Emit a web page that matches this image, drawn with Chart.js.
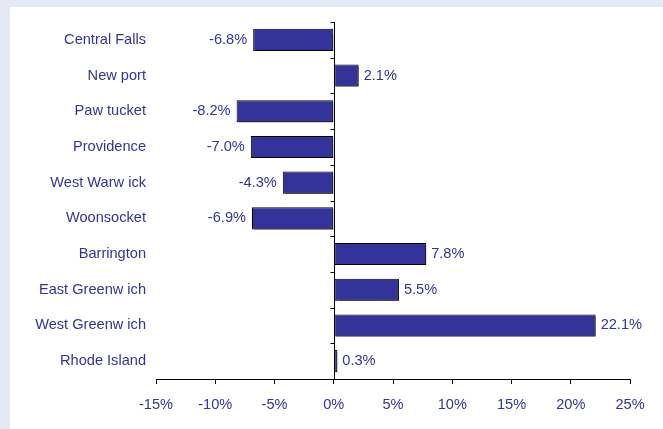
<!DOCTYPE html>
<html>
<head>
<meta charset="utf-8">
<script src="https://cdn.jsdelivr.net/npm/chart.js@4.4.0/dist/chart.umd.min.js"></script>
<style>
  html, body { margin: 0; padding: 0; background: #e6e9f3; }
  body { width: 663px; height: 429px; position: relative; overflow: hidden; }
  #wrap { position: absolute; left: 10px; top: 7px; width: 653px; height: 422px; background: #fff; }
</style>
</head>
<body>
<div id="wrap"><canvas id="chart" width="653" height="422"></canvas></div>
<script>
// ── Data ──────────────────────────────────────────────────
const places  = ['Central Falls', 'New port', 'Paw tucket', 'Providence', 'West Warw ick',
                 'Woonsocket', 'Barrington', 'East Greenw ich', 'West Greenw ich', 'Rhode Island'];
const changes = [-6.8, 2.1, -8.2, -7.0, -4.3, -6.9, 7.8, 5.5, 22.1, 0.3];
const xTicks  = [-15, -10, -5, 0, 5, 10, 15, 20, 25];

const BLUE = '#333399';
const FONT = { family: 'Liberation Sans, Arial, sans-serif', size: 14.6 };

// shadow under the bars
const barShadow = {
  id: 'barShadow',
  beforeDatasetsDraw(chart) {
    const c = chart.ctx;
    c.save();
    c.shadowColor = 'rgba(0,0,0,0.5)';
    c.shadowOffsetX = 2;
    c.shadowOffsetY = 2;
    c.shadowBlur = 1;
  },
  afterDatasetsDraw(chart) { chart.ctx.restore(); }
};

// zero line, category ticks and value labels
const extras = {
  id: 'extras',
  afterDatasetsDraw(chart) {
    const c = chart.ctx, x = chart.scales.x, y = chart.scales.y, area = chart.chartArea;
    const x0 = Math.round(x.getPixelForValue(0)) + 0.5;
    c.save();
    c.strokeStyle = '#000';
    c.lineWidth = 1;
    c.beginPath();
    c.moveTo(x0, area.top);
    c.lineTo(x0, area.bottom);
    for (let i = 0; i <= places.length; i++) {
      const py = Math.round(y.getPixelForValue(i - 0.5)) + 0.5;
      c.moveTo(x0 - 4, py);
      c.lineTo(x0, py);
    }
    c.stroke();

    c.font = `${FONT.size}px ${FONT.family}`;
    c.fillStyle = BLUE;
    c.textBaseline = 'middle';
    chart.getDatasetMeta(0).data.forEach((bar, i) => {
      const v = changes[i];
      const txt = v.toFixed(1) + '%';
      if (v < 0) { c.textAlign = 'right'; c.fillText(txt, bar.x - 6, bar.y); }
      else       { c.textAlign = 'left';  c.fillText(txt, bar.x + 5, bar.y); }
    });
    c.restore();
  }
};

new Chart(document.getElementById('chart'), {
  type: 'bar',
  data: {
    labels: places,
    datasets: [{
      data: changes,
      backgroundColor: BLUE,
      borderColor: '#000',
      borderWidth: 1,
      borderSkipped: false,
      categoryPercentage: 1,
      barPercentage: 0.62
    }]
  },
  options: {
    indexAxis: 'y',
    responsive: false,
    animation: false,
    layout: { padding: { top: 15, right: 33 } },
    plugins: { legend: { display: false }, tooltip: { enabled: false } },
    scales: {
      x: {
        min: -15, max: 25,
        afterBuildTicks: s => { s.ticks = xTicks.map(v => ({ value: v })); },
        afterFit: s => { s.height = 50; s.paddingLeft = 0; s.paddingRight = 0; },
        grid: { drawOnChartArea: false, drawTicks: true, tickLength: 5, color: '#000' },
        border: { color: '#000' },
        ticks: { color: BLUE, font: FONT, padding: 12, maxRotation: 0, callback: v => v + '%' }
      },
      y: {
        afterFit: s => { s.width = 146; s.paddingTop = 0; s.paddingBottom = 0; },
        grid: { display: false, drawTicks: false },
        border: { display: false },
        ticks: { color: BLUE, font: FONT, padding: 10 }
      }
    }
  },
  plugins: [barShadow, extras]
});
</script>
</body>
</html>
